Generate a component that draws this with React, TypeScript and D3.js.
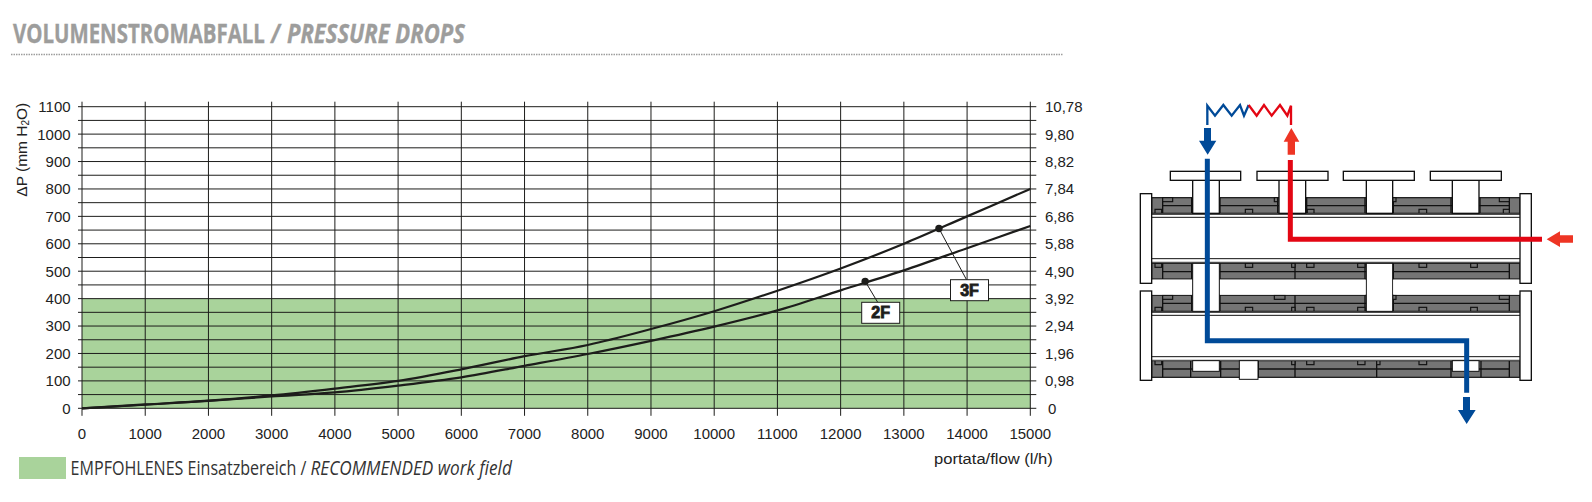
import React, { useLayoutEffect, useRef } from "react";
import * as d3 from "d3";

const flowTicks = [0, 1000, 2000, 3000, 4000, 5000, 6000, 7000, 8000, 9000, 10000, 11000, 12000, 13000, 14000, 15000];
const pressureTicks = [0, 100, 200, 300, 400, 500, 600, 700, 800, 900, 1000, 1100];
const minorTicks = [50, 150, 250, 350, 450, 550, 650, 750, 850, 950, 1050];
const kpaLabels = ["0", "0,98", "1,96", "2,94", "3,92", "4,90", "5,88", "6,86", "7,84", "8,82", "9,80", "10,78"];
const flowPoints = [0, 1000, 2000, 3000, 4000, 5000, 6000, 7000, 8000, 9000, 10000, 11000, 12000, 13000, 14000, 15000];
const drop3F = [0, 14, 28, 47, 72, 100, 142, 190, 231, 289, 354, 429, 510, 600, 700, 800];
const drop2F = [0, 13, 27, 43, 58, 83, 113, 155, 198, 246, 298, 357, 430, 503, 584, 665];
const recommendedLimit = 400;
const markers = [
  { name: "3F", flow: 13555, drop: 656, bx: 950.5, by: 279.7 },
  { name: "2F", flow: 12388, drop: 463, bx: 861.7, by: 302.3 },
];

const x = d3.scaleLinear().domain([0, 15000]).range([82, 1030.3]);
const y = d3.scaleLinear().domain([0, 1100]).range([408.3, 106.7]);
const INK = "#1d1d1b";
const curve = d3.line<number>().x((_, i) => x(flowPoints[i])).y((d) => y(d)).curve(d3.curveMonotoneX);

// Text squeezed horizontally to a given width (the original face is condensed)
const FitText = ({ x: px, y: py, width, children, ...rest }: any) => {
  const ref = useRef<SVGTextElement>(null);
  useLayoutEffect(() => {
    const el = ref.current;
    if (!el) return;
    const natural = el.getComputedTextLength();
    el.setAttribute("transform", `translate(${px},${py}) scale(${width / natural},1)`);
  }, [px, py, width]);
  return (
    <text ref={ref} transform={`translate(${px},${py})`} {...rest}>
      {children}
    </text>
  );
};

// Schematic (drawn in a 3x local grid)
const GRAY = "#757575";
const BLUE = "#004a98";
const RED = "#e30613";
const ARROW_RED = "#ee3524";

const Box = ({ a, b, c, d, fill = "#fff", sw = 4 }: any) => (
  <rect x={a} y={c} width={b - a} height={d - c} fill={fill} stroke="#111" strokeWidth={sw} />
);

const Band = ({ top, bottom, mid, notchTop, notchBottom, seams }: any) => (
  <g>
    <rect x={95} y={top} width={1105} height={bottom - top} fill={GRAY} stroke="#222" strokeWidth={4} />
    <line x1={128} x2={1168} y1={mid} y2={mid} stroke="#111" strokeWidth={4} />
    {seams.map((s: number) => (
      <line key={s} x1={s} x2={s} y1={top} y2={bottom} stroke="#111" strokeWidth={4} />
    ))}
    {notchTop.map((n: number[], i: number) => (
      <rect key={i} x={n[0]} y={top} width={n[1] - n[0]} height={12} fill={GRAY} stroke="#111" strokeWidth={3.5} />
    ))}
    {notchBottom.map((n: number[], i: number) => (
      <rect key={i} x={n[0]} y={bottom - 12} width={n[1] - n[0]} height={12} fill={GRAY} stroke="#111" strokeWidth={3.5} />
    ))}
  </g>
);

const Tube = ({ top }: { top: number }) => (
  <g>
    <rect x={95} y={top} width={1105} height={146} fill="#fff" />
    <line x1={95} x2={1200} y1={top + 2} y2={top + 2} stroke="#111" strokeWidth={4} />
    <line x1={95} x2={1200} y1={top + 12} y2={top + 12} stroke="#111" strokeWidth={3} />
    <line x1={95} x2={1200} y1={top + 136} y2={top + 136} stroke="#111" strokeWidth={3} />
    <line x1={95} x2={1200} y1={top + 147} y2={top + 147} stroke="#555" strokeWidth={4} />
  </g>
);

const Schematic = () => (
  <g transform="translate(1120,90) scale(0.33333)">
    <Band top={323} bottom={370} mid={347} seams={[128, 215, 300, 473, 560, 735, 820, 993, 1080, 1168]}
      notchTop={[[128, 158], [463, 473], [818, 828], [1138, 1168]]}
      notchBottom={[[105, 125], [376, 398], [562, 582], [897, 920], [1150, 1168]]} />
    <Band top={520} bottom={567} mid={545} seams={[128, 215, 300, 525, 735, 820, 1168]}
      notchTop={[[105, 125], [376, 398], [515, 525], [560, 582], [713, 735], [897, 920], [1052, 1072]]}
      notchBottom={[]} />
    <Band top={616} bottom={664} mid={640} seams={[128, 215, 300, 525, 735, 820, 1168]}
      notchTop={[[128, 158], [463, 495], [818, 828], [1138, 1168]]}
      notchBottom={[[105, 125], [376, 398], [515, 525], [560, 582], [713, 735], [897, 920], [1052, 1072]]} />
    <Band top={812} bottom={862} mid={837} seams={[128, 212, 302, 415, 525, 770, 993, 1083, 1168]}
      notchTop={[[105, 125], [515, 525], [560, 582], [713, 735], [770, 780], [897, 920]]}
      notchBottom={[]} />
    <Tube top={370} />
    <Tube top={664} />
    {/* handles */}
    {[[218, 298], [477, 557], [739, 818], [997, 1077]].map((s, i) => (
      <Box key={i} a={s[0]} b={s[1]} c={268} d={370} />
    ))}
    {[[151, 362], [411, 624], [670, 883], [931, 1144]].map((s, i) => (
      <Box key={i} a={s[0]} b={s[1]} c={244} d={271} />
    ))}
    {/* connecting stems between the two units */}
    {[[218, 298], [739, 818]].map((s, i) => (
      <rect key={i} x={s[0]} y={520} width={s[1] - s[0]} height={144} fill="#fff" stroke="#111" strokeWidth={3} />
    ))}
    <rect x={97} y={569} width={119} height={45} fill="#fff" />
    <rect x={300} y={569} width={436} height={45} fill="#fff" />
    <rect x={820} y={569} width={378} height={45} fill="#fff" />
    {/* lower band windows */}
    <Box a={218} b={298} c={812} d={844} sw={3} />
    <Box a={358} b={414} c={812} d={868} sw={3} />
    <Box a={997} b={1077} c={812} d={844} sw={3} />
    {/* flanges */}
    <Box a={61} b={95} c={311} d={580} />
    <Box a={1200} b={1234} c={311} d={580} />
    <Box a={61} b={95} c={603} d={871} />
    <Box a={1200} b={1234} c={603} d={871} />
    {/* circuits */}
    <path d="M262,206V752H1040V908" fill="none" stroke={BLUE} strokeWidth={15} />
    <path d="M511,210V448H1266" fill="none" stroke={RED} strokeWidth={15} />
    {/* arrows */}
    <path d="M252,114H273V152H289L263,194L237,152H252Z" fill={BLUE} />
    <path d="M1029,921H1050V960H1067L1040,1002L1014,960H1029Z" fill={BLUE} />
    <path d="M503,194H525V155H538L514,114L491,155H503Z" fill={ARROW_RED} />
    <path d="M1359,436H1320V424L1280,448L1320,471V458H1359Z" fill={ARROW_RED} />
    {/* coil */}
    <path d="M262,105V47L285,77L310,45L335,77L360,45L372,77L386,45" fill="none" stroke={BLUE} strokeWidth={7} />
    <path d="M386,45L410,77L432,45L455,77L480,45L502,77L513,47V105" fill="none" stroke={RED} strokeWidth={7} />
  </g>
);

export default function App() {
  const sans = "'Liberation Sans', Arial, sans-serif";
  const head = "'Open Sans', sans-serif";
  return (
    <svg width={1592} height={502} style={{ position: "absolute", left: 0, top: 0, display: "block", background: "#fff" }}>
      {/* Title */}
      <g fontFamily={head} fontWeight={700} fontSize={26} fill="#9d9d9c" stroke="#9d9d9c" strokeWidth={0.4}>
        <FitText x={13} y={42.7} width={252}>VOLUMENSTROMABFALL</FitText>
        <FitText x={271} y={42.7} width={9} fontStyle="italic">/</FitText>
        <FitText x={287} y={42.7} width={178} fontStyle="italic">PRESSURE DROPS</FitText>
      </g>
      <line x1={11} x2={1063} y1={54.5} y2={54.5} stroke="#9d9d9c" strokeWidth={1.5} strokeDasharray="1.5 1" />

      {/* Recommended area */}
      <rect x={x(0)} y={y(recommendedLimit)} width={x(15000) - x(0)} height={y(0) - y(recommendedLimit)} fill="#a9d39b" />

      {/* Grid */}
      <g stroke={INK} strokeWidth={1}>
        {[...pressureTicks, ...minorTicks].map((t) => (
          <line key={t} x1={x(0) - 4} x2={x(15000) + 6} y1={y(t)} y2={y(t)} />
        ))}
        {flowTicks.map((t) => (
          <line key={t} x1={x(t)} x2={x(t)} y1={y(1100) - 5} y2={y(0) + 7.5} />
        ))}
      </g>

      {/* Curves */}
      <g fill="none" stroke={INK} strokeWidth={2.2}>
        <path d={curve(drop3F) || ""} />
        <path d={curve(drop2F) || ""} />
      </g>

      {/* Markers */}
      {markers.map((m) => (
        <g key={m.name}>
          <line x1={x(m.flow)} y1={y(m.drop)} x2={m.bx + 16} y2={m.by} stroke={INK} strokeWidth={1} />
          <circle cx={x(m.flow)} cy={y(m.drop)} r={3.7} fill={INK} />
          <rect x={m.bx} y={m.by} width={38} height={21} fill="#fff" stroke={INK} strokeWidth={1} />
          <text x={m.bx + 19} y={m.by + 16} textAnchor="middle" fontFamily={sans} fontWeight={700} fontSize={16} stroke={INK} strokeWidth={0.9} fill={INK}>{m.name}</text>
        </g>
      ))}

      {/* Axis labels */}
      <g fontFamily={sans} fontSize={15} fill="#222">
        {pressureTicks.map((t) => (
          <text key={t} x={70.6} y={y(t) + 5.4} textAnchor="end">{t}</text>
        ))}
        {kpaLabels.map((l, i) => (
          <text key={l} x={l === "0" ? 1048 : 1045} y={y(pressureTicks[i]) + 5.4}>{l}</text>
        ))}
        {flowTicks.map((t) => (
          <text key={t} x={x(t)} y={439} textAnchor="middle">{t}</text>
        ))}
        <FitText x={934} y={464} width={119}>portata/flow (l/h)</FitText>
        <text transform="translate(27,196.7) rotate(-90)" fontSize={15.5}>
          ΔP (mm H<tspan fontSize={10} dy={2}>2</tspan><tspan dy={-2}>O)</tspan>
        </text>
      </g>

      {/* Legend */}
      <rect x={19} y={457} width={47} height={22} fill="#a9d39b" />
      <g fontFamily={head} fontSize={20} fill="#333">
        <FitText x={70.6} y={475} width={236}>EMPFOHLENES Einsatzbereich /</FitText>
        <FitText x={310.5} y={475} width={201.5} fontStyle="italic">RECOMMENDED work field</FitText>
      </g>

      <Schematic />
    </svg>
  );
}
